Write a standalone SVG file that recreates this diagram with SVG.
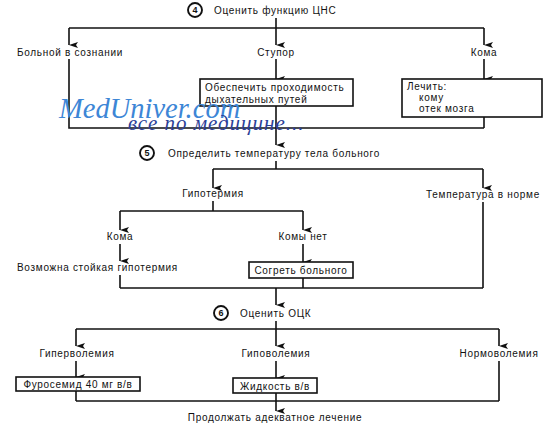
<svg xmlns="http://www.w3.org/2000/svg" width="550" height="428" viewBox="0 0 550 428">
<defs>
<marker id="ah" markerUnits="userSpaceOnUse" markerWidth="6" markerHeight="9" refX="3" refY="9" orient="auto-start-reverse" viewBox="0 0 6 9">
<path d="M0,0 L3,9 L6,0 L3,2 Z" fill="#111"/>
</marker>
<style>
.t{font-family:"Liberation Sans",Arial,sans-serif;font-size:10px;fill:#111;letter-spacing:0.7px}
.m{text-anchor:middle}
.n{font-family:"Liberation Sans",Arial,sans-serif;font-size:9px;font-weight:bold;fill:#111;text-anchor:middle}
.c{fill:#fff;stroke:#111;stroke-width:1.9}
.b{fill:#fff;stroke:#111;stroke-width:1.6}
.l{fill:none;stroke:#111;stroke-width:1.6}
.a{fill:none;stroke:#111;stroke-width:1.6;marker-end:url(#ah)}
.w1{font-family:"Liberation Serif","Times New Roman",serif;font-style:italic;font-size:28.5px;fill:#3d86d6}
.w2{font-family:"Liberation Serif","Times New Roman",serif;font-style:italic;font-size:21px;letter-spacing:1px;fill:#2b3f98}
</style>
</defs>
<rect width="550" height="428" fill="#fff"/>
<g id="connectors">
<line class="l" x1="276" y1="18" x2="276" y2="28"/>
<line class="l" x1="69" y1="28" x2="484" y2="28"/>
<line class="a" x1="69" y1="28" x2="69" y2="45"/>
<line class="a" x1="276" y1="28" x2="276" y2="45"/>
<line class="a" x1="484" y1="28" x2="484" y2="45"/>
<polyline class="l" points="69,59 69,128 484,128"/>
<line class="a" x1="276" y1="59" x2="276" y2="79"/>
<line class="a" x1="484" y1="59" x2="484" y2="79"/>
<line class="l" x1="484" y1="117" x2="484" y2="128"/>
<line class="a" x1="276" y1="106" x2="276" y2="145"/>
<line class="l" x1="276" y1="161" x2="276" y2="169"/>
<line class="l" x1="213" y1="169" x2="483" y2="169"/>
<line class="a" x1="213" y1="169" x2="213" y2="188"/>
<line class="a" x1="483" y1="169" x2="483" y2="188"/>
<line class="l" x1="213" y1="201" x2="213" y2="211"/>
<line class="l" x1="120" y1="211" x2="303" y2="211"/>
<line class="a" x1="120" y1="211" x2="120" y2="230"/>
<line class="a" x1="303" y1="211" x2="303" y2="230"/>
<line class="a" x1="120" y1="244" x2="120" y2="261"/>
<line class="a" x1="303" y1="244" x2="303" y2="262"/>
<line class="l" x1="120" y1="275" x2="120" y2="288"/>
<line class="l" x1="303" y1="278" x2="303" y2="288"/>
<line class="l" x1="483" y1="202" x2="483" y2="288"/>
<line class="l" x1="120" y1="288" x2="483" y2="288"/>
<line class="a" x1="276" y1="288" x2="276" y2="305"/>
<line class="l" x1="276" y1="321" x2="276" y2="329"/>
<line class="l" x1="76" y1="329" x2="499" y2="329"/>
<line class="a" x1="76" y1="329" x2="76" y2="346"/>
<line class="a" x1="276" y1="329" x2="276" y2="346"/>
<line class="a" x1="499" y1="329" x2="499" y2="346"/>
<line class="a" x1="76" y1="361" x2="76" y2="377"/>
<line class="a" x1="276" y1="361" x2="276" y2="378"/>
<line class="l" x1="76" y1="391" x2="76" y2="401"/>
<line class="l" x1="276" y1="393" x2="276" y2="401"/>
<line class="l" x1="499" y1="361" x2="499" y2="401"/>
<line class="l" x1="76" y1="401" x2="499" y2="401"/>
<line class="a" x1="276" y1="401" x2="276" y2="411"/>
</g>
<g id="step4">
<circle class="c" cx="195" cy="10" r="7"/>
<text class="n" x="195" y="13.3">4</text>
<text class="t" x="214" y="13.5">Оценить функцию ЦНС</text>
</g>
<g id="conscious"><text class="t" x="17" y="56">Больной в сознании</text></g>
<g id="stupor"><text class="t m" x="276" y="56">Ступор</text></g>
<g id="coma1"><text class="t m" x="484" y="56">Кома</text></g>
<g id="airway">
<rect class="b" x="200" y="79" width="153" height="27"/>
<text class="t" x="205" y="91">Обеспечить проходимость</text>
<text class="t" x="205" y="103">дыхательных путей</text>
</g>
<g id="treat">
<rect class="b" x="402" y="79" width="140" height="38"/>
<text class="t" x="407" y="90">Лечить:</text>
<text class="t" x="419" y="101">кому</text>
<text class="t" x="419" y="112">отек мозга</text>
</g>
<g id="step5">
<circle class="c" cx="147" cy="153" r="7"/>
<text class="n" x="147" y="156.3">5</text>
<text class="t" x="168" y="157">Определить температуру тела больного</text>
</g>
<g id="hypothermia"><text class="t m" x="213" y="197">Гипотермия</text></g>
<g id="normtemp"><text class="t m" x="483" y="198">Температура в норме</text></g>
<g id="coma2"><text class="t m" x="120" y="240">Кома</text></g>
<g id="nocoma"><text class="t m" x="303" y="240">Комы нет</text></g>
<g id="persistent"><text class="t" x="17" y="271">Возможна стойкая гипотермия</text></g>
<g id="warm">
<rect class="b" x="249" y="262" width="104" height="16"/>
<text class="t m" x="301" y="274">Согреть больного</text>
</g>
<g id="step6">
<circle class="c" cx="221" cy="313" r="7"/>
<text class="n" x="221" y="316.3">6</text>
<text class="t" x="240" y="317">Оценить ОЦК</text>
</g>
<g id="hyper"><text class="t m" x="77" y="357">Гиперволемия</text></g>
<g id="hypo"><text class="t m" x="276" y="357">Гиповолемия</text></g>
<g id="normo"><text class="t m" x="499" y="357">Нормоволемия</text></g>
<g id="furosemide">
<rect class="b" x="16" y="377" width="124" height="14"/>
<text class="t m" x="78" y="388">Фуросемид 40 мг в/в</text>
</g>
<g id="fluid">
<rect class="b" x="233" y="378" width="84" height="15"/>
<text class="t m" x="275" y="389.5">Жидкость в/в</text>
</g>
<g id="continue"><text class="t m" x="275" y="421">Продолжать адекватное лечение</text></g>
<g id="watermark">
<text class="w1" x="59" y="118">MedUniver.com</text>
<text class="w2" x="128" y="130">все по медицине...</text>
</g>
</svg>
